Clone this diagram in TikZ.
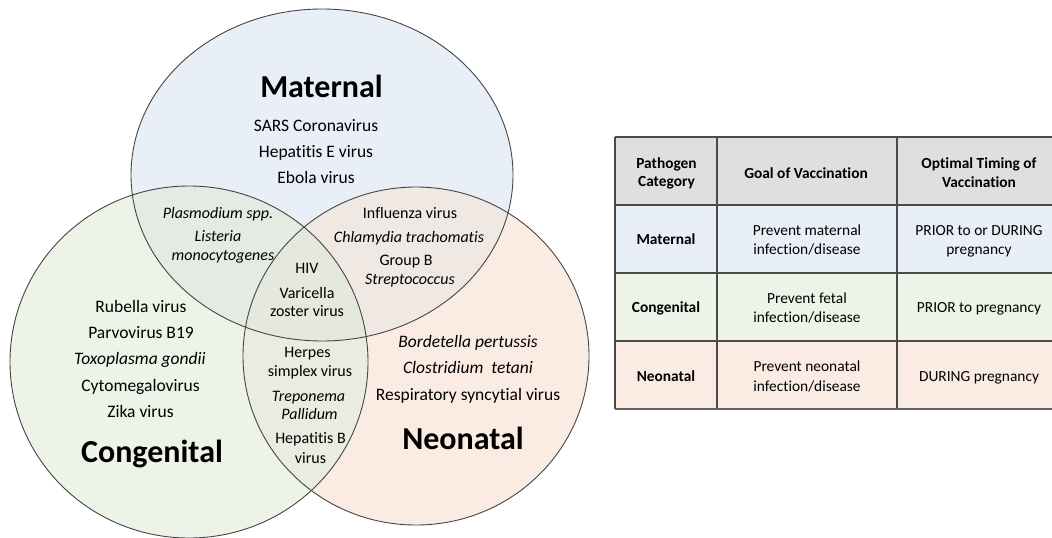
\documentclass[tikz,border=0pt]{standalone}
\usepackage{fontspec}
\setmainfont{Carlito}[Ligatures=NoCommon]
\definecolor{matC}{HTML}{E9EFF7}
\definecolor{conC}{HTML}{EDF3E7}
\definecolor{neoC}{HTML}{FBECE3}
\definecolor{mcC}{HTML}{E4EBE3}
\definecolor{mnC}{HTML}{F0E8E3}
\definecolor{cnC}{HTML}{EBECE1}
\definecolor{mcnC}{HTML}{E5E8DD}
\definecolor{hdrC}{HTML}{E1DEDE}
\definecolor{gridC}{HTML}{4A4A4A}
\definecolor{lineC}{HTML}{454545}
\begin{document}
\begin{tikzpicture}[x=1pt,y=-1pt,
  outline/.style={draw=lineC, line width=0.9pt},
  hdg/.style={font=\fontsize{32}{38}\selectfont\bfseries, anchor=base, inner sep=0pt},
  big/.style={font=\fontsize{17.5}{21}\selectfont, anchor=base, inner sep=0pt},
  sml/.style={font=\fontsize{16}{19}\selectfont, anchor=base, inner sep=0pt},
  tab/.style={font=\fontsize{15.4}{18}\selectfont, anchor=base, inner sep=0pt},
  tabb/.style={font=\fontsize{15.4}{18}\selectfont\bfseries, anchor=base, inner sep=0pt},
  grid/.style={draw=gridC, line width=1.1pt}
]
\useasboundingbox (0,0) rectangle (1052,538);

% ---- Venn fills ----
\fill[matC] (322,175) ellipse [x radius=191pt, y radius=166pt];
\fill[conC] (189,362) ellipse [x radius=179pt, y radius=176pt];
\fill[neoC] (416,356) ellipse [x radius=173pt, y radius=169pt];
\begin{scope}
  \clip (322,175) ellipse [x radius=191pt, y radius=166pt];
  \fill[mcC] (189,362) ellipse [x radius=179pt, y radius=176pt];
  \fill[mnC] (416,356) ellipse [x radius=173pt, y radius=169pt];
\end{scope}
\begin{scope}
  \clip (189,362) ellipse [x radius=179pt, y radius=176pt];
  \fill[cnC] (416,356) ellipse [x radius=173pt, y radius=169pt];
\end{scope}
\begin{scope}
  \clip (322,175) ellipse [x radius=191pt, y radius=166pt];
  \clip (189,362) ellipse [x radius=179pt, y radius=176pt];
  \fill[mcnC] (416,356) ellipse [x radius=173pt, y radius=169pt];
\end{scope}
\draw[outline] (322,175) ellipse [x radius=191pt, y radius=166pt];
\draw[outline] (189,362) ellipse [x radius=179pt, y radius=176pt];
\draw[outline] (416,356) ellipse [x radius=173pt, y radius=169pt];

% ---- headings ----
\node[hdg] (hMat) at (321.5,97) {Maternal};
\node[hdg] (hCon) at (152,462) {Congenital};
\node[hdg] (hNeo) at (463,449) {Neonatal};

% ---- maternal only ----
\node[big] (m1) at (316,131.5) {SARS Coronavirus};
\node[big] (m2) at (316,157.5) {Hepatitis E virus};
\node[big] (m3) at (316,183.5) {Ebola virus};

% ---- congenital only ----
\node[big] (c1) at (141,312.5) {Rubella virus};
\node[big] (c2) at (141,338.5) {Parvovirus B19};
\node[big] (c3) at (140,364.5) {\itshape Toxoplasma gondii};
\node[big] (c4) at (140.5,391) {Cytomegalovirus};
\node[big] (c5) at (140.5,417) {Zika virus};

% ---- neonatal only ----
\node[big] (n1) at (468,347.5) {\itshape Bordetella pertussis};
\node[big] (n2) at (468,373.5) {\itshape Clostridium\hspace{0.45em}tetani};
\node[big] (n3) at (468,400) {Respiratory syncytial virus};

% ---- maternal & congenital ----
\node[sml] (mc1) at (218,218) {\itshape Plasmodium spp.};
\node[sml] (mc2) at (218,241.5) {\itshape Listeria};
\node[sml] (mc3) at (223,260.5) {\itshape monocytogenes};

% ---- maternal & neonatal ----
\node[sml] (mn1) at (410,218) {Influenza virus};
\node[sml] (mn2) at (409,242) {\itshape Chlamydia trachomatis};
\node[sml] (mn3) at (406,265.5) {Group B};
\node[sml] (mn4) at (410,284.5) {\itshape Streptococcus};

% ---- all three ----
\node[sml] (a1) at (307,273) {HIV};
\node[sml] (a2) at (307,298) {Varicella};
\node[sml] (a3) at (307,316) {zoster virus};

% ---- congenital & neonatal ----
\node[sml] (cn1) at (307.5,357.5) {Herpes};
\node[sml] (cn2) at (310,376) {simplex virus};
\node[sml] (cn3) at (308.5,401) {\itshape Treponema};
\node[sml] (cn4) at (309.5,419.5) {\itshape Pallidum};
\node[sml] (cn5) at (310.5,443.5) {Hepatitis B};
\node[sml] (cn6) at (310.5,463.5) {virus};

% ---- table ----
\fill[hdrC] (615,137) rectangle (1061,205);
\fill[matC] (615,205) rectangle (1061,273);
\fill[conC] (615,273) rectangle (1061,341);
\fill[neoC] (615,341) rectangle (1061,409);
\draw[grid] (615,137) -- (1061,137);
\draw[grid] (615,205) -- (1061,205);
\draw[grid] (615,273) -- (1061,273);
\draw[grid] (615,341) -- (1061,341);
\draw[grid] (615,137) -- (615,409);
\draw[grid] (717,137) -- (717,409);
\draw[grid] (897,137) -- (897,409);
\draw[draw=black!62, line width=2pt] (614.5,409) -- (1061,409);

\node[tabb] (t11) at (666.5,168) {Pathogen};
\node[tabb] (t12) at (666.5,186.5) {Category};
\node[tabb] (t2) at (806,178) {Goal of Vaccination};
\node[tabb] (t31) at (979,168.5) {Optimal Timing of};
\node[tabb] (t32) at (979,187) {Vaccination};

\node[tabb] (r1a) at (666,244.5) {Maternal};
\node[tab] (r1b1) at (807,235.5) {Prevent maternal};
\node[tab] (r1b2) at (807,254.5) {infection/disease};
\node[tab] (r1c1) at (979,235.5) {PRIOR to or DURING};
\node[tab] (r1c2) at (979,254.5) {pregnancy};

\node[tabb] (r2a) at (666,312.5) {Congenital};
\node[tab] (r2b1) at (807,303.5) {Prevent fetal};
\node[tab] (r2b2) at (807,322.5) {infection/disease};
\node[tab] (r2c) at (979,312.5) {PRIOR to pregnancy};

\node[tabb] (r3a) at (666,381.5) {Neonatal};
\node[tab] (r3b1) at (807,371.5) {Prevent neonatal};
\node[tab] (r3b2) at (807,391.5) {infection/disease};
\node[tab] (r3c) at (979,381.5) {DURING pregnancy};
\end{tikzpicture}
\end{document}
